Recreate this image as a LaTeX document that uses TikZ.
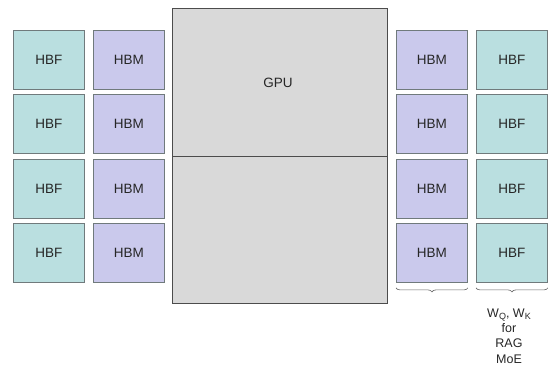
\documentclass[tikz,border=0pt]{standalone}
\usepackage{fontspec}
\setmainfont{Liberation Sans}
\usetikzlibrary{decorations.pathreplacing}
\definecolor{hbffill}{HTML}{BADFE0}
\definecolor{hbmfill}{HTML}{CAC9EC}
\definecolor{gpufill}{HTML}{D9D9D9}
\definecolor{boxline}{HTML}{707A7C}
\newcommand{\mysub}[1]{\raisebox{-2.5pt}{\fontsize{9}{9}\selectfont #1}}
\tikzset{
  chip/.style={draw=boxline, line width=0.9pt, minimum width=71pt, minimum height=59pt, inner sep=0pt, anchor=north west, font=\fontsize{13.5}{14}\selectfont, text=black!85},
  hbf/.style={chip, fill=hbffill},
  hbm/.style={chip, fill=hbmfill},
  brc/.style={decorate, decoration={brace, mirror, amplitude=4pt}, draw=black!60, line width=0.6pt},
}
\begin{document}
\begin{tikzpicture}[x=1pt,y=-1pt]
\useasboundingbox (0,0) rectangle (550,372);
% GPU
\node[draw=black!70, line width=0.9pt, fill=gpufill, minimum width=215pt, minimum height=148pt, inner sep=0pt, anchor=north west] (gpuA) at (172,8) {};
\node[draw=black!70, line width=0.9pt, fill=gpufill, minimum width=215pt, minimum height=147pt, inner sep=0pt, anchor=north west] (gpuB) at (172,156) {};
\node[font=\fontsize{13.5}{14}\selectfont, text=black!85] (gpulabel) at (278,83) {GPU};
% rows
\foreach \i/\y in {1/30,2/94.3,3/158.6,4/223} {
  \node[hbf] (lf\i) at (13,\y) {HBF};
  \node[hbm] (lm\i) at (93,\y) {HBM};
  \node[hbm] (rm\i) at (396,\y) {HBM};
  \node[hbf] (rf\i) at (476,\y) {HBF};
}
% braces
\draw[brc] ([yshift=-5pt]rm4.south west) -- ([yshift=-5pt]rm4.south east);
\draw[brc] ([yshift=-5pt]rf4.south west) -- ([yshift=-5pt]rf4.south east);
\node[font=\fontsize{12.5}{15.3}\selectfont, text=black!85, align=center, anchor=north] (note) at (509,305) {W\mysub{Q}, W\mysub{K}\\for\\RAG\\MoE};
\end{tikzpicture}
\end{document}
